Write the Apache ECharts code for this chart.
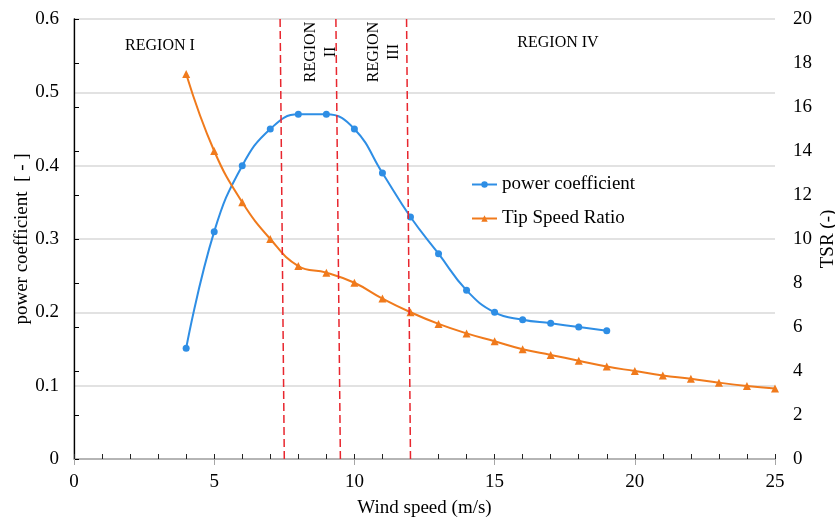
<!DOCTYPE html>
<html>
<head>
<meta charset="utf-8">
<script src="https://cdn.jsdelivr.net/npm/echarts@6/dist/echarts.min.js"></script>
<style>
  html, body { margin: 0; padding: 0; background: #fff; }
  #chart { width: 835px; height: 522px; }
</style>
</head>
<body>
<div id="chart"></div>
<script>
// Wind speed samples (m/s)
const cpSpeeds = [4, 5, 6, 7, 8, 9, 10, 11, 12, 13, 14, 15, 16, 17, 18, 19];
const powerCoefficient = [0.151, 0.31, 0.40, 0.45, 0.47, 0.47, 0.45, 0.39, 0.33, 0.28, 0.23, 0.20, 0.19, 0.185, 0.18, 0.175];

const tsrSpeeds = [4, 5, 6, 7, 8, 9, 10, 11, 12, 13, 14, 15, 16, 17, 18, 19, 20, 21, 22, 23, 24, 25];
const tipSpeedRatio = [17.5, 14.0, 11.67, 10.0, 8.77, 8.47, 8.01, 7.29, 6.67, 6.14, 5.71, 5.35, 4.99, 4.73, 4.47, 4.20, 4.0, 3.80, 3.65, 3.47, 3.32, 3.21];

// Region boundaries: wind speed at the top and at the bottom of each dashed line
const boundaryTop = [7.35, 9.34, 11.86];
const boundaryBottom = [7.5, 9.5, 12.0];

const leftTicks = ['0', '0.1', '0.2', '0.3', '0.4', '0.5', '0.6'];

const FONT = 'Liberation Serif';
const BLUE = '#2e8ee5';
const ORANGE = '#f07a1c';

const pair = (xs, ys) => xs.map((x, i) => [x, ys[i]]);

const chart = echarts.init(document.getElementById('chart'), null, { renderer: 'canvas' });

chart.setOption({
  animation: false,
  backgroundColor: '#fff',
  textStyle: { fontFamily: FONT, color: '#000' },
  grid: { left: 74, right: 60, top: 19, bottom: 63, outerBoundsMode: 'none', containLabel: false },
  legend: {
    orient: 'vertical',
    left: 466,
    top: 170,
    itemWidth: 25,
    itemHeight: 8,
    itemGap: 15,
    textStyle: { fontFamily: FONT, fontSize: 19, color: '#000' },
    data: ['power coefficient', 'Tip Speed Ratio']
  },
  xAxis: [
    {
      type: 'value',
      min: 0, max: 25, interval: 5,
      name: 'Wind speed (m/s)',
      nameLocation: 'middle',
      nameGap: 40,
      nameMoveOverlap: false,
      nameTextStyle: { fontFamily: FONT, fontSize: 19, color: '#000' },
      axisLine: { show: true, lineStyle: { color: '#a6a6a6', width: 1.5 } },
      axisTick: { show: true, length: 6, lineStyle: { color: '#a6a6a6', width: 1 } },
      axisLabel: { fontFamily: FONT, fontSize: 19, color: '#000', margin: 14 },
      splitLine: { show: false }
    },
    {
      // unit ticks drawn inside the plot
      type: 'value',
      position: 'bottom',
      min: 0, max: 25, interval: 1,
      axisLine: { show: false },
      axisTick: { show: true, inside: true, length: 5, lineStyle: { color: '#222', width: 1 } },
      axisLabel: { show: false },
      splitLine: { show: false }
    }
  ],
  yAxis: [
    {
      type: 'value',
      min: 0, max: 0.6, interval: 0.1,
      name: 'power coefficient  [ - ]',
      nameLocation: 'middle',
      nameGap: 42,
      nameRotate: 90,
      nameMoveOverlap: false,
      nameTextStyle: { fontFamily: FONT, fontSize: 19, color: '#000' },
      axisLine: { show: true, lineStyle: { color: '#bfbfbf', width: 1.5 } },
      axisTick: { show: false },
      axisLabel: {
        fontFamily: FONT, fontSize: 19, color: '#000', margin: 15,
        formatter: (v) => leftTicks[Math.round(v * 10)]
      },
      splitLine: { show: true, lineStyle: { color: '#d9d9d9', width: 1.5 } }
    },
    {
      type: 'value',
      position: 'right',
      min: 0, max: 20, interval: 2,
      name: 'TSR (-)',
      nameLocation: 'middle',
      nameGap: 44,
      nameRotate: 90,
      nameMoveOverlap: false,
      nameTextStyle: { fontFamily: FONT, fontSize: 19, color: '#000' },
      axisLine: { show: true, lineStyle: { color: '#000', width: 1.3 } },
      axisTick: { show: true, length: 5, lineStyle: { color: '#000', width: 1 } },
      axisLabel: { fontFamily: FONT, fontSize: 19, color: '#000', margin: 18 },
      splitLine: { show: false }
    }
  ],
  series: [
    {
      name: 'power coefficient',
      type: 'line',
      xAxisIndex: 0,
      yAxisIndex: 0,
      smooth: 0.45,
      symbol: 'circle',
      symbolSize: 7,
      itemStyle: { color: BLUE },
      lineStyle: { color: BLUE, width: 2 },
      data: pair(cpSpeeds, powerCoefficient),
      z: 3,
      markLine: {
        silent: true,
        symbol: ['none', 'none'],
        label: { show: false },
        lineStyle: { color: '#e8262e', type: [8, 4], width: 1.5 },
        data: boundaryTop.map((t, i) => [
          { coord: [t, 0.6] },
          { coord: [boundaryBottom[i], 0] }
        ])
      }
    },
    {
      name: 'Tip Speed Ratio',
      type: 'line',
      xAxisIndex: 0,
      yAxisIndex: 1,
      smooth: 0.45,
      symbol: 'triangle',
      symbolSize: 8,
      itemStyle: { color: ORANGE },
      lineStyle: { color: ORANGE, width: 2 },
      data: pair(tsrSpeeds, tipSpeedRatio),
      z: 3
    }
  ],
  graphic: [
    {
      type: 'text', x: 160, y: 46,
      style: { text: 'REGION I', fontFamily: FONT, fontSize: 16, fill: '#000', align: 'center', verticalAlign: 'middle' }
    },
    {
      type: 'text', x: 321, y: 52, rotation: Math.PI / 2,
      style: { text: 'REGION\nII', fontFamily: FONT, fontSize: 16, lineHeight: 20, fill: '#000', align: 'center', verticalAlign: 'middle' }
    },
    {
      type: 'text', x: 384, y: 52, rotation: Math.PI / 2,
      style: { text: 'REGION\nIII', fontFamily: FONT, fontSize: 16, lineHeight: 20, fill: '#000', align: 'center', verticalAlign: 'middle' }
    },
    {
      type: 'text', x: 558, y: 43,
      style: { text: 'REGION IV', fontFamily: FONT, fontSize: 16, fill: '#000', align: 'center', verticalAlign: 'middle' }
    }
  ]
});
</script>
</body>
</html>
